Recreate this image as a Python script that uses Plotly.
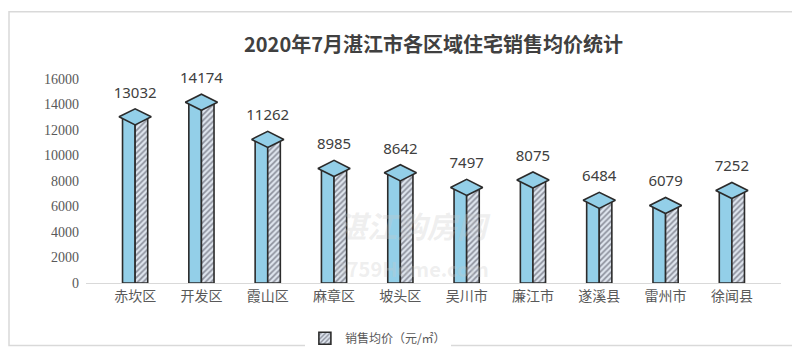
import plotly.graph_objects as go

categories = ["赤坎区", "开发区", "霞山区", "麻章区", "坡头区", "吴川市", "廉江市", "遂溪县", "雷州市", "徐闻县"]
values = [13032, 14174, 11262, 8985, 8642, 7497, 8075, 6484, 6079, 7252]
series_name = "销售均价（元/㎡）"
y_ticks = [0, 2000, 4000, 6000, 8000, 10000, 12000, 14000, 16000]
y_tick_labels = [str(v) for v in y_ticks]

W, H = 800, 357
ml, mr, mt, mb = 78, 27, 71, 74

fig = go.Figure()

# front face
fig.add_trace(go.Bar(
    x=categories, y=values, name=series_name,
    width=0.19, offset=-0.19,
    marker=dict(color="#93CFE8", line=dict(color="#2b2b2b", width=1.6)),
    showlegend=False, hoverinfo="skip",
))
# side face (hatched)
fig.add_trace(go.Bar(
    x=categories, y=values, name=series_name,
    width=0.19, offset=0.0,
    marker=dict(color="#dfe6ef", line=dict(color="#2b2b2b", width=1.6),
                pattern=dict(shape="/", fgcolor="#3a3a4a", bgcolor="#dfe6ef", size=4, solidity=0.45)),
    showlegend=True,
))
# top face + labels
fig.add_trace(go.Scatter(
    x=categories, y=values, mode="markers+text",
    marker=dict(symbol="diamond-wide", size=23, color="#93CFE8",
                line=dict(color="#2b2b2b", width=1.6)),
    text=[str(v) for v in values], textposition="top center",
    textfont=dict(family="Noto Sans, Open Sans, sans-serif", size=15, color="#404040"),
    showlegend=False, hoverinfo="skip", cliponaxis=False,
))

# watermark (single text block, kept clear of value labels)
fig.add_annotation(
    text="<i><b>湛江购房网</b></i><br><span style='font-size:20px'><b>0759Home.com</b></span>",
    x=0.47, y=0.40, xref="paper", yref="paper", yanchor="top", showarrow=False,
    font=dict(family="Noto Sans CJK SC", size=30, color="rgba(200,200,200,0.3)"))

pw = W - ml - mr
ph = H - mt - mb
fig.add_shape(type="rect", xref="paper", yref="paper",
              x0=(1 - ml) / pw, x1=(797 - ml) / pw,
              y0=(H - mb - 348) / ph, y1=(H - mb - 1) / ph,
              line=dict(color="#d9d9d9", width=1.5), layer="below")

fig.update_layout(
    width=W, height=H,
    margin=dict(l=ml, r=mr, t=mt, b=mb),
    paper_bgcolor="white", plot_bgcolor="white",
    barmode="overlay",
    title=dict(text="<b>2020年7月湛江市各区域住宅销售均价统计</b>", x=0.5, xref="paper", xanchor="center",
               y=0.895, yref="container", yanchor="middle",
               font=dict(family="Noto Sans CJK SC", size=20, color="#404040")),
    showlegend=True,
    legend=dict(orientation="h", x=0.42, xanchor="center", y=-0.2, yanchor="top",
                font=dict(family="Noto Sans CJK SC", size=12, color="#595959"),
                itemwidth=30),
    xaxis=dict(showgrid=False, showline=True, linecolor="#d9d9d9", linewidth=1, ticks="",
               tickfont=dict(family="Noto Sans CJK SC", size=14, color="#595959")),
    yaxis=dict(range=[0, 16000], tickvals=y_ticks, ticktext=y_tick_labels, showgrid=False, zeroline=False,
               showline=False, ticks="", ticklabelstandoff=6,
               tickfont=dict(family="Liberation Serif, serif", size=14, color="#595959")),
)

fig.write_html("out.html")
